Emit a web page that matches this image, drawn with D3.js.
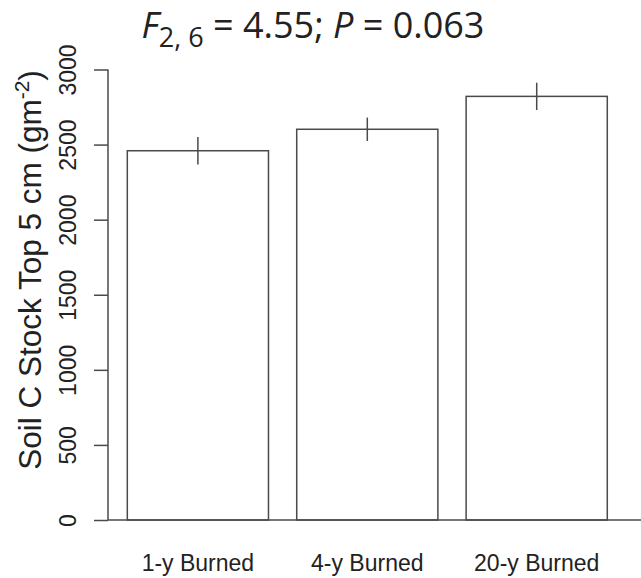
<!DOCTYPE html>
<html>
<head>
<meta charset="utf-8">
<script src="https://cdn.jsdelivr.net/npm/d3@7"></script>
<style>
  body { margin: 0; background: #fff; }
  svg text { font-family: "Liberation Sans", Arial, sans-serif; fill: #222; }
</style>
</head>
<body>
<div id="chart"></div>
<script>
// Data
const groups = ["1-y Burned", "4-y Burned", "20-y Burned"];
const means = [2459, 2602, 2821];
const errors = [91, 78, 91];
const yTicks = [0, 500, 1000, 1500, 2000, 2500, 3000];

const bars = groups.map((g, i) => ({ group: g, mean: means[i], err: errors[i] }));

const W = 641, H = 578;
const stroke = "#4a4a4a";

const svg = d3.select("#chart")
  .append("svg")
  .attr("width", W)
  .attr("height", H);

// Scales
const y = d3.scaleLinear()
  .domain([0, 3000])
  .range([520, 69.5]);

const x = d3.scaleBand()
  .domain(groups)
  .range([113.2, 621.4])
  .paddingInner(0.1667)
  .paddingOuter(0.0833);

// Y axis
const yAxis = svg.append("g")
  .attr("transform", "translate(108,0)")
  .call(d3.axisLeft(y).tickValues(yTicks).tickSize(14).tickPadding(0).tickFormat(d3.format("d")));

yAxis.select(".domain")
  .attr("d", `M0,${y(0)}V${y(3000)}`)
  .attr("stroke", stroke)
  .attr("stroke-width", 1.5);
yAxis.selectAll(".tick line")
  .attr("stroke", stroke)
  .attr("stroke-width", 1.5);
yAxis.selectAll(".tick text")
  .attr("x", 0)
  .attr("dy", 0)
  .attr("transform", "translate(-32.5,0) rotate(-90)")
  .attr("text-anchor", "middle")
  .style("font-size", "23px")
  .style("font-family", "Liberation Sans, Arial, sans-serif")
  .attr("fill", "#222");

// Baseline
svg.append("line")
  .attr("x1", 108).attr("x2", W)
  .attr("y1", y(0)).attr("y2", y(0))
  .attr("stroke", stroke)
  .attr("stroke-width", 1.5);

// Bars
svg.selectAll(".bar")
  .data(bars)
  .enter().append("rect")
  .attr("class", "bar")
  .attr("x", d => x(d.group))
  .attr("y", d => y(d.mean))
  .attr("width", x.bandwidth())
  .attr("height", d => y(0) - y(d.mean))
  .attr("fill", "none")
  .attr("stroke", stroke)
  .attr("stroke-width", 1.5);

// Error bars
svg.selectAll(".err")
  .data(bars)
  .enter().append("line")
  .attr("class", "err")
  .attr("x1", d => x(d.group) + x.bandwidth() / 2)
  .attr("x2", d => x(d.group) + x.bandwidth() / 2)
  .attr("y1", d => y(d.mean + d.err))
  .attr("y2", d => y(d.mean - d.err))
  .attr("stroke", stroke)
  .attr("stroke-width", 1.5);

// Group labels
svg.selectAll(".glabel")
  .data(groups)
  .enter().append("text")
  .attr("class", "glabel")
  .attr("x", d => x(d) + x.bandwidth() / 2)
  .attr("y", 571)
  .attr("text-anchor", "middle")
  .style("font-size", "23px")
  .text(d => d);

// Y axis title
const yt = svg.append("text")
  .attr("transform", "translate(41,270) rotate(-90)")
  .attr("text-anchor", "middle")
  .style("font-size", "31.5px");
yt.append("tspan").text("Soil C Stock Top 5 cm (gm");
yt.append("tspan").attr("dy", -12).style("font-size", "21px").text("-2");
yt.append("tspan").attr("dy", 12).text(")");

// Title with F statistic
const title = svg.append("text")
  .attr("x", 313)
  .attr("y", 38)
  .attr("text-anchor", "middle")
  .style("font-family", "Open Sans, sans-serif")
  .style("font-size", "36px")
  .attr("fill", "#000");
title.append("tspan").style("font-style", "italic").text("F");
title.append("tspan").attr("dy", 9).style("font-size", "27px").text("2, 6");
title.append("tspan").attr("dy", -9).text(" = 4.55; ");
title.append("tspan").style("font-style", "italic").text("P");
title.append("tspan").text(" = 0.063");
</script>
</body>
</html>
